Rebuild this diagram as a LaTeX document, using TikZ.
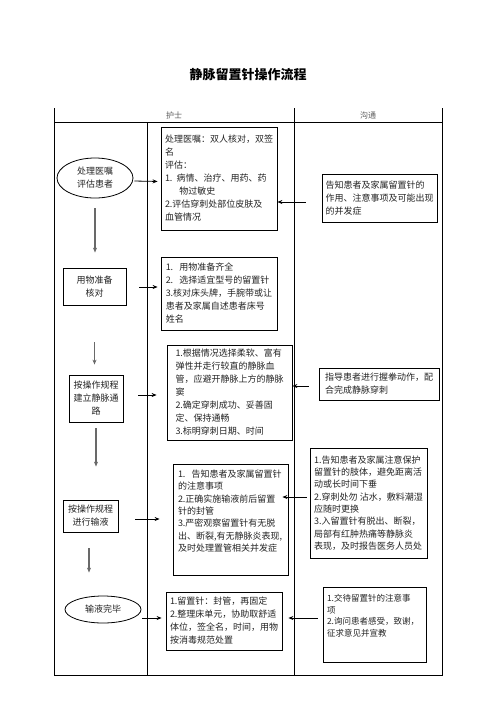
\documentclass[tikz,border=0pt]{standalone}
\usepackage{fontspec}
\setmainfont{Noto Sans CJK SC}
\usepackage{tikz}
\usetikzlibrary{shapes.geometric,arrows.meta}
\usepackage{xcolor}
\definecolor{ink}{RGB}{35,35,35}
\definecolor{stem}{RGB}{105,105,105}
\definecolor{head}{RGB}{90,90,90}
\newcommand{\toptext}[3]{\parbox[c][#1][t]{#2}{\raggedright #3}}

\begin{document}
\begin{tikzpicture}[x=1pt,y=-1pt,
  every node/.style={font=\fontsize{9}{13}\selectfont,text=ink},
  box/.style={draw=black,line width=0.8pt,inner sep=3pt,align=left},
  topbox/.style={draw=black,line width=0.8pt,inner xsep=5pt,inner ysep=6pt},
  oval/.style={draw=black,line width=0.8pt,ellipse,inner sep=0pt,align=center},
  arr/.style={-{Stealth[length=5pt,width=4pt]},line width=0.8pt},
  down/.style={-{Stealth[length=5pt,width=4pt]},stem,line width=1.3pt},
  grid/.style={line width=1pt}]
\useasboundingbox (0,0) rectangle (496,702);
\node[font=\fontsize{13}{15}\selectfont\bfseries,text=black] (title) at (248,75) {静脉留置针操作流程};
\draw[grid] (54,108) -- (54,675) -- (442,675) -- (442,108);
\draw[grid] (54,122) -- (442,122);
\draw[grid] (147,122) -- (147,675);
\draw[grid] (294,108) -- (294,675);
\node[font=\fontsize{8}{10}\selectfont,text=head] (nurse) at (174,115) {护士};
\node[font=\fontsize{8}{10}\selectfont,text=head] (talk) at (368,115) {沟通};

\node[oval,minimum width=76pt,minimum height=40pt] (assess) at (95,178) {处理医嘱\\评估患者};
\node[box,align=center,minimum width=63pt,minimum height=37pt] (prep) at (94.5,286.5) {用物准备\\核对};
\node[box,align=center,minimum width=54pt,minimum height=47pt] (build) at (96,398.5) {按操作规程\\建立静脉通\\路};
\node[box,align=center,minimum width=55pt,minimum height=32pt] (infuse) at (90.5,516) {按操作规程\\进行输液};
\node[oval,minimum width=76pt,minimum height=27pt] (finish) at (103,609.5) {输液完毕};

\node[box,minimum width=116pt,minimum height=103pt] (check) at (219,178.5) {处理医嘱：双人核对，双签\\名\\评估：\\1.\ \ 病情、治疗、用药、药\\\hspace*{1.6em}物过敏史\\2.评估穿刺处部位皮肤及\\血管情况};
\node[box,minimum width=116pt,minimum height=73pt] (supply) at (219,293.5) {1.\ \ \ 用物准备齐全\\2.\ \ \ 选择适宜型号的留置针\\3.核对床头牌，手腕带或让\\患者及家属自述患者床号\\姓名};
\node[box,inner ysep=2pt,minimum width=125pt,minimum height=95pt] (puncture) at (229.5,392.5) {1.根据情况选择柔软、富有\\弹性并走行较直的静脉血\\管，应避开静脉上方的静脉\\窦\\2.确定穿刺成功、妥善固\\定、保持通畅\\3.标明穿刺日期、时间};
\node[topbox,font=\fontsize{9}{12.3}\selectfont] (maintain) at (230.5,519.5) {\toptext{99pt}{105pt}{1.\ \ \ 告知患者及家属留置针\\的注意事项\\2.正确实施输液前后留置\\针的封管\\3.严密观察留置针有无脱\\出、断裂,有无静脉炎表现,\\及时处理置管相关并发症}};
\node[box,minimum width=116pt,minimum height=58pt] (tidy) at (224,621) {1.留置针：封管，再固定\\2.整理床单元，协助取舒适\\体位，签全名，时间，用物\\按消毒规范处置};

\node[box,minimum width=115pt,minimum height=48pt] (inform) at (379.5,198) {告知患者及家属留置针的\\作用、注意事项及可能出现\\的并发症};
\node[box,minimum width=120pt,minimum height=32pt] (guide) at (379,384) {指导患者进行握拳动作，配\\合完成静脉穿刺};
\node[box,font=\fontsize{9}{12.3}\selectfont,minimum width=117pt,minimum height=110pt] (protect) at (368.5,503) {1.告知患者及家属注意保护\\留置针的肢体，避免距离活\\动或长时间下垂\\2.穿刺处勿 沾水，敷料潮湿\\应随时更换\\3.入留置针有脱出、断裂，\\局部有红肿热痛等静脉炎\\表现，及时报告医务人员处};
\node[topbox,inner xsep=4pt,inner ysep=7pt,font=\fontsize{8.5}{11.8}\selectfont] (educate) at (374.5,624.5) {\toptext{61pt}{95pt}{1.交待留置针的注意事\\项\\2.询问患者感受，致谢，\\征求意见并宣教}};

\draw[arr,shorten <=1pt,shorten >=3pt] ([yshift=-3pt]assess.east) -- ([yshift=-3pt]check.west);
\draw[arr,shorten <=13pt,shorten >=3pt] ([yshift=-0.5pt]prep.east) -- ([yshift=6.5pt]supply.west);
\draw[arr,shorten <=15pt,shorten >=10pt] ([yshift=3.5pt]build.east) -- ([yshift=-2.5pt]puncture.west);
\draw[arr,shorten <=17pt,shorten >=13pt] ([yshift=-3pt]infuse.east) -- ([yshift=0.5pt]maintain.west);
\draw[arr,shorten <=1pt,shorten >=4pt] ([yshift=-8.5pt]finish.east) -- ([yshift=3pt]tidy.west);

\draw[arr,shorten <=16pt] ([yshift=-4pt]inform.west) -- ([yshift=-23.5pt]check.east);
\draw[arr,shorten <=10pt] ([yshift=-2pt]guide.west) -- ([yshift=6.5pt]puncture.east);
\draw[arr,shorten <=3pt,shorten >=-6pt] ([yshift=6pt]protect.west) -- ([yshift=22.5pt]maintain.east);
\draw[arr,shorten <=5pt,shorten >=6pt] ([yshift=6.5pt]educate.west) -- ([yshift=3pt]tidy.east);

\draw[down,shorten <=10pt,shorten >=15pt] (assess.south) -- (assess.south |- prep.north);
\draw[down,shorten <=37pt,shorten >=10pt] (prep.south) -- (prep.south |- build.north);
\draw[down,shorten <=6pt,shorten >=33pt] (build.south) -- (build.south |- infuse.north);
\draw[down,shorten <=16pt,shorten >=23pt] ([xshift=-1.5pt]infuse.south) -- ([xshift=-1.5pt]infuse.south |- finish.north);
\end{tikzpicture}
\end{document}
